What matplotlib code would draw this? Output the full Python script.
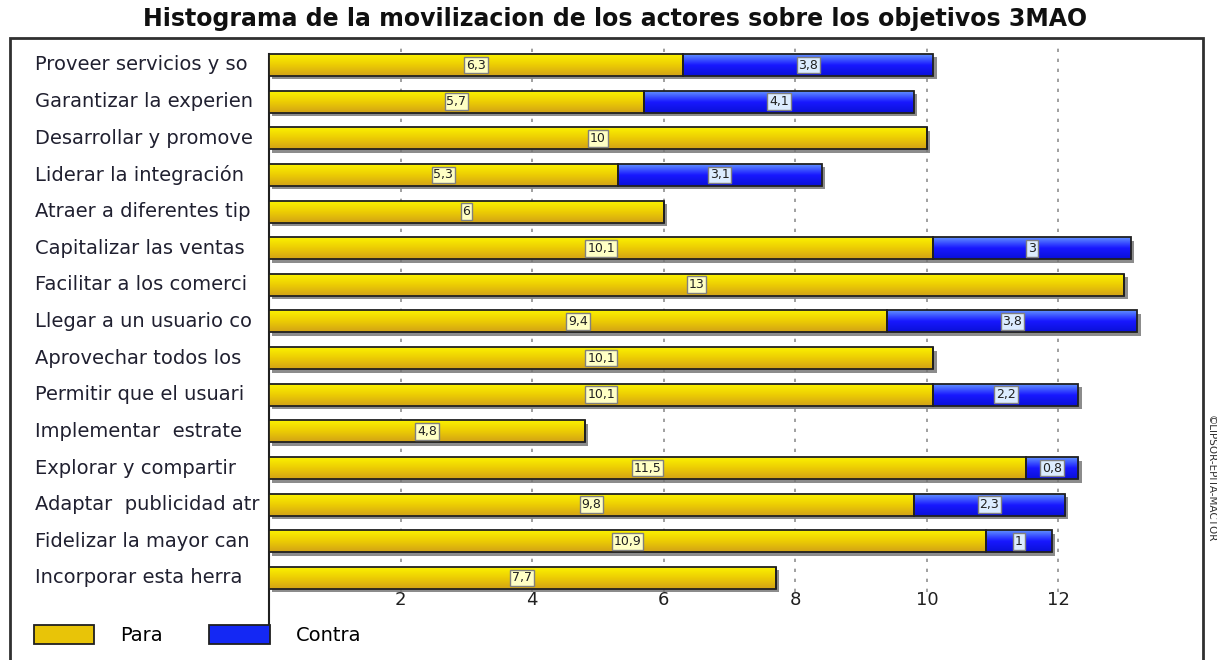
import numpy as np
import matplotlib
matplotlib.use("Agg")
import matplotlib.pyplot as plt
import matplotlib.patheffects as pe
import matplotlib.transforms as mtransforms
from matplotlib.patches import Rectangle, Patch
from matplotlib.colors import LinearSegmentedColormap

# data
objetivos = ["Proveer servicios y so", "Garantizar la experien", "Desarrollar y promove",
             "Liderar la integración", "Atraer a diferentes tip", "Capitalizar las ventas",
             "Facilitar a los comerci", "Llegar a un usuario co", "Aprovechar todos los",
             "Permitir que el usuari", "Implementar  estrate", "Explorar y compartir",
             "Adaptar  publicidad atr", "Fidelizar la mayor can", "Incorporar esta herra"]
para = [6.3, 5.7, 10, 5.3, 6, 10.1, 13, 9.4, 10.1, 10.1, 4.8, 11.5, 9.8, 10.9, 7.7]
contra = [3.8, 4.1, 0, 3.1, 0, 3, 0, 3.8, 0, 2.2, 0, 0.8, 2.3, 1, 0]
xticks = [2, 4, 6, 8, 10, 12]

W, H = 1217, 660
plt.rcParams['font.family'] = ['DejaVu Sans']
fig = plt.figure(figsize=(W / 100, H / 100), dpi=100)

# axes placed in pixel coords of the reference
ax_l, ax_r, ax_t, ax_b = 269, 1190, 45, 592
ax = fig.add_axes([ax_l / W, 1 - ax_b / H, (ax_r - ax_l) / W, (ax_b - ax_t) / H])

y = np.arange(len(objetivos))
yellow = '#e8c408'
blue = '#1428f4'
cm_yellow = LinearSegmentedColormap.from_list('yel', ['#fbf200', '#eccc04', '#d2a216'])
cm_blue = LinearSegmentedColormap.from_list('blu', ['#6090ff', '#1818ff', '#0a10d8'])
shadow = [pe.SimplePatchShadow(offset=(2.5, -2.5), shadow_rgbFace='#707070', alpha=0.8), pe.Normal()]

b1 = ax.barh(y, para, height=0.6, color=yellow, edgecolor='none', zorder=3, path_effects=shadow)
b2 = ax.barh(y, contra, left=para, height=0.6, color=blue, edgecolor='none', zorder=3,
             path_effects=shadow)

# vertical gradient fill clipped to each bar
grad = np.linspace(0, 1, 64).reshape(-1, 1)
for bars, cm in [(b1, cm_yellow), (b2, cm_blue)]:
    for p in bars:
        if p.get_width() <= 0:
            continue
        x0, y0 = p.get_x(), p.get_y()
        im = ax.imshow(grad, cmap=cm, aspect='auto', zorder=3.5,
                       extent=[x0, x0 + p.get_width(), y0 + p.get_height(), y0])
        im.set_clip_path(p)
ax.barh(y, para, height=0.6, fill=False, edgecolor='#202020', lw=1.3, zorder=4)
ax.barh(y, contra, left=para, height=0.6, fill=False, edgecolor='#202020', lw=1.3, zorder=4)

def fmt(v):
    s = ('%d' % v) if float(v).is_integer() else ('%.1f' % v)
    return s.replace('.', ',')

for i in range(len(objetivos)):
    ax.text(para[i] / 2, y[i], fmt(para[i]), ha='center', va='center', fontsize=9, zorder=5,
            color='#202020',
            bbox=dict(boxstyle='square,pad=0.15', fc='#ffffc4', ec='#808080', lw=1))
    if contra[i] > 0:
        ax.text(para[i] + contra[i] / 2, y[i], fmt(contra[i]), ha='center', va='center', fontsize=9,
                zorder=5, color='#202020',
                bbox=dict(boxstyle='square,pad=0.15', fc='#dcecff', ec='#808080', lw=1))

ax.set_xlim(0, 14)
ax.set_ylim((ax_b - 65) / 36.64, -(65 - ax_t) / 36.64)
ax.set_yticks([])
ax.set_xticks(xticks)
ax.set_xticklabels([str(t) for t in xticks], fontsize=13, color='#202020')
ax.tick_params(axis='x', length=0, pad=-1)
for t in xticks:
    ax.axvline(t, color='#909090', ls=(0, (2, 4)), lw=1.2, zorder=1)
for s in ['top', 'right', 'bottom']:
    ax.spines[s].set_visible(False)
ax.spines['left'].set_color('#202020')
ax.spines['left'].set_linewidth(1.5)
ax.spines['left'].set_bounds(15.3, -0.3)

# category labels at the left edge of the frame
tr = mtransforms.blended_transform_factory(fig.transFigure, ax.transData)
for i, lab in enumerate(objetivos):
    ax.text(35 / W, y[i], lab, transform=tr, ha='left', va='center', fontsize=14, color='#202030')

fig.text(615 / W, 1 - 19 / H, 'Histograma de la movilizacion de los actores sobre los objetivos 3MAO',
         ha='center', va='center', fontsize=17, fontweight='bold', color='#101010')

# outer frame
fig.patches.append(Rectangle((10 / W, -0.05), (1203 - 10) / W, 1.05 - 38 / H,
                             transform=fig.transFigure, fill=False, ec='#303030', lw=2))

# legend
fig.legend(handles=[Patch(fc=yellow, ec='#202020', lw=1.3, label='Para'),
                    Patch(fc=blue, ec='#202020', lw=1.3, label='Contra')],
           loc='center left', bbox_to_anchor=(16 / W, 1 - 635 / H), ncol=2, frameon=False,
           fontsize=14, handlelength=3.1, handleheight=1.1, handletextpad=1.35, columnspacing=2.4)

fig.text(1211 / W, 1 - 415 / H, '©LIPSOR-EPITA-MACTOR', rotation=-90, ha='center', va='top',
         fontsize=7.5, color='#303030')

fig.savefig('out.png', dpi=100)
